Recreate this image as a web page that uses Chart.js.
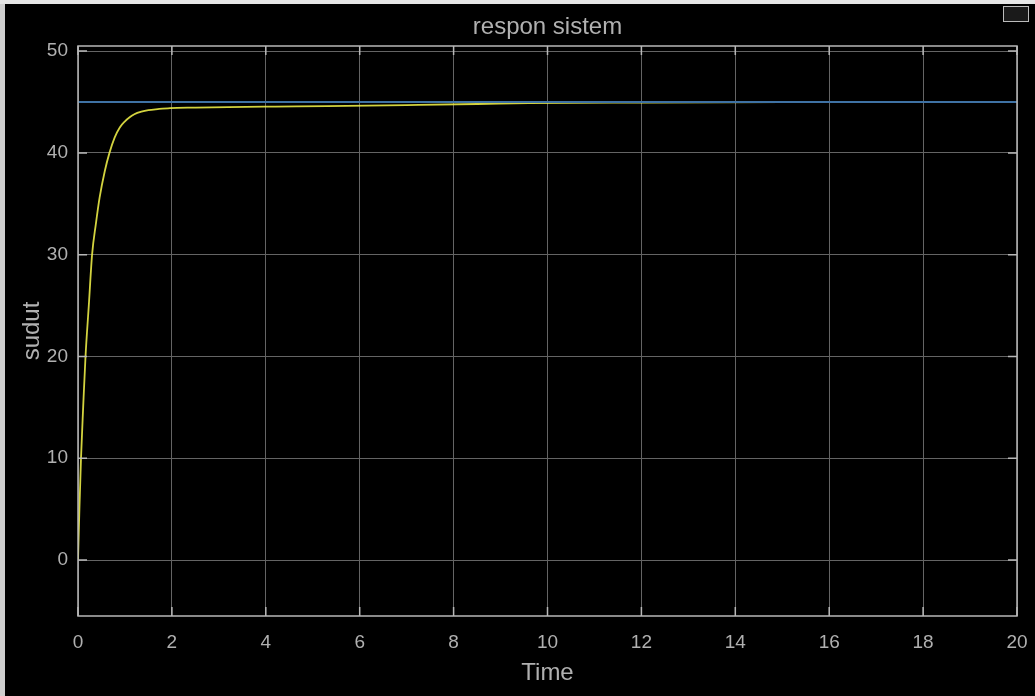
<!DOCTYPE html>
<html>
<head>
<meta charset="utf-8">
<title>respon sistem</title>
<script src="https://cdn.jsdelivr.net/npm/chart.js@4.4.1/dist/chart.umd.min.js"></script>
<style>
  html, body { margin: 0; padding: 0; background: #000; }
  #wrap { position: relative; width: 1035px; height: 696px; overflow: hidden; background: #000; }
  #edgeLeft { position: absolute; left: 0; top: 0; width: 5px; height: 696px; background: #cfcfcf; }
  #edgeTop { position: absolute; left: 0; top: 0; width: 1035px; height: 4px; background: #e6e6e6; }
  #dock { position: absolute; left: 1003px; top: 6px; width: 24px; height: 14px; border: 1px solid #bbb; background: #1a1a1a; }
  canvas { position: absolute; left: 0; top: 0; }
</style>
</head>
<body>
<div id="wrap">
  <canvas id="scope" width="1035" height="696"></canvas>
  <div id="edgeLeft"></div>
  <div id="edgeTop"></div>
  <div id="dock"></div>
</div>
<script>
// Simulated step response of the angle loop (seconds, degrees)
const timeSec     = [0, 0.03, 0.064, 0.11, 0.16, 0.23, 0.30, 0.38, 0.46, 0.57, 0.67, 0.78, 0.89, 1.0, 1.1, 1.2, 1.35, 1.5, 1.7, 1.96, 2.5, 3.2, 4.2, 5.3, 7, 8.5, 9.6, 12, 15, 20];
const responseDeg = [0, 5, 10, 15, 20, 25, 30, 33, 35.6, 38.2, 40, 41.5, 42.5, 43.1, 43.5, 43.8, 44.05, 44.2, 44.3, 44.4, 44.45, 44.5, 44.55, 44.6, 44.7, 44.8, 44.9, 44.95, 44.98, 45];

// Reference (setpoint) angle
const setpointTime = [0, 20];
const setpointDeg  = [45, 45];

// Axis ticks and limits
const xTicks = [0, 2, 4, 6, 8, 10, 12, 14, 16, 18, 20];
const yTicks = [0, 10, 20, 30, 40, 50];
const xLimits = [0, 20];
const yLimits = [-5.5, 50.5];

const titleText = 'respon sistem';
const xLabel = 'Time';
const yLabel = 'sudut';

const textColor = '#b0b0b0';
const frameColor = '#b8b8b8';
const gridColor = '#646464';
const fontFamily = '"Liberation Sans", Arial, Helvetica, sans-serif';

const toPoints = (xs, ys) => xs.map((x, i) => ({ x: x, y: ys[i] }));

// Frame, inward tick marks and the title, scope style
const scopeFrame = {
  id: 'scopeFrame',
  afterDraw(chart) {
    const { ctx, chartArea: a, scales } = chart;
    ctx.save();
    ctx.strokeStyle = frameColor;
    ctx.lineWidth = 1.5;
    ctx.strokeRect(a.left, a.top, a.right - a.left, a.bottom - a.top);
    ctx.beginPath();
    const tl = 9;
    yTicks.forEach(v => {
      const y = scales.y.getPixelForValue(v);
      ctx.moveTo(a.left, y); ctx.lineTo(a.left + tl, y);
      ctx.moveTo(a.right, y); ctx.lineTo(a.right - tl, y);
    });
    xTicks.forEach(v => {
      const x = scales.x.getPixelForValue(v);
      ctx.moveTo(x, a.bottom); ctx.lineTo(x, a.bottom - tl);
      ctx.moveTo(x, a.top); ctx.lineTo(x, a.top + tl);
    });
    ctx.stroke();
    ctx.fillStyle = textColor;
    ctx.font = '24px ' + fontFamily;
    ctx.textAlign = 'center';
    ctx.textBaseline = 'middle';
    ctx.fillText(titleText, (a.left + a.right) / 2, 27);
    ctx.restore();
  }
};

new Chart(document.getElementById('scope'), {
  type: 'line',
  data: {
    datasets: [
      {
        label: 'setpoint',
        data: toPoints(setpointTime, setpointDeg),
        borderColor: '#3f72a4',
        borderWidth: 1.8,
        pointRadius: 0,
        tension: 0
      },
      {
        label: 'sudut',
        data: toPoints(timeSec, responseDeg),
        borderColor: 'rgba(240, 240, 72, 0.88)',
        borderWidth: 1.8,
        pointRadius: 0,
        cubicInterpolationMode: 'monotone'
      }
    ]
  },
  options: {
    responsive: false,
    animation: false,
    devicePixelRatio: 1,
    layout: { padding: { left: 0, top: 46, right: 18, bottom: 0 } },
    plugins: {
      legend: { display: false },
      title: { display: false },
      tooltip: { enabled: false }
    },
    scales: {
      x: {
        type: 'linear',
        min: xLimits[0],
        max: xLimits[1],
        afterBuildTicks: s => { s.ticks = xTicks.map(v => ({ value: v })); },
        afterFit: s => { s.height = 80; s.paddingLeft = 0; s.paddingRight = 0; },
        grid: { color: gridColor, lineWidth: 1, drawTicks: false },
        border: { display: false },
        ticks: { color: textColor, font: { family: fontFamily, size: 19 }, padding: 15, maxRotation: 0 },
        title: { display: true, text: xLabel, color: textColor, font: { family: fontFamily, size: 24 }, padding: { top: 0, bottom: 8 } }
      },
      y: {
        type: 'linear',
        min: yLimits[0],
        max: yLimits[1],
        afterBuildTicks: s => { s.ticks = yTicks.map(v => ({ value: v })); },
        afterFit: s => { s.width = 78; s.paddingTop = 0; s.paddingBottom = 0; },
        grid: { color: gridColor, lineWidth: 1, drawTicks: false },
        border: { display: false },
        ticks: { color: textColor, font: { family: fontFamily, size: 19 }, padding: 10 },
        title: { display: true, text: yLabel, color: textColor, font: { family: fontFamily, size: 24 }, padding: { top: 18, bottom: 0 } }
      }
    }
  },
  plugins: [scopeFrame]
});
</script>
</body>
</html>
